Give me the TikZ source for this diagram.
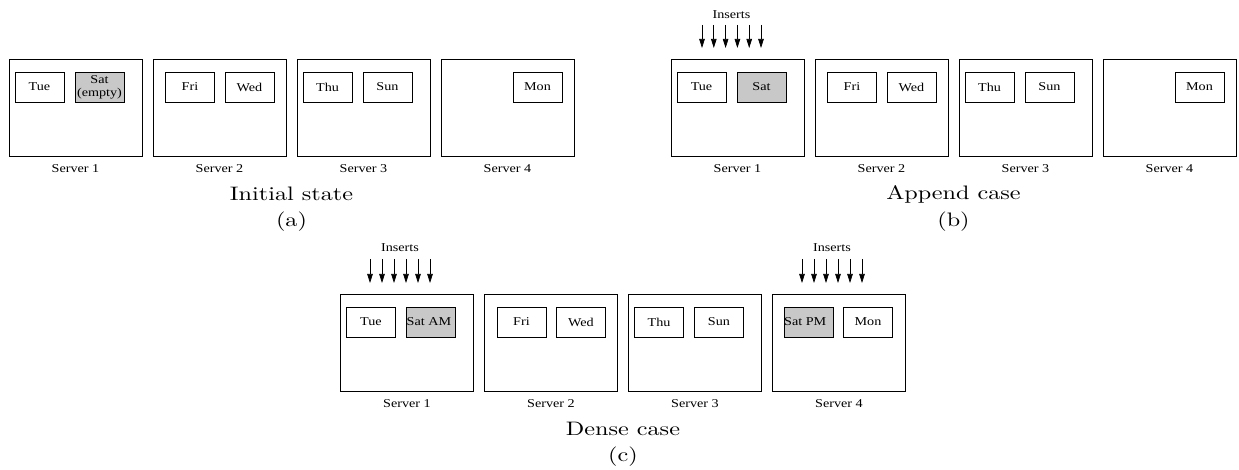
\documentclass[tikz,border=0pt]{standalone}
\usepackage{fontspec}
\usetikzlibrary{arrows.meta}
\newfontfamily\tms{Liberation Serif}[FakeStretch=1.18]
\newfontfamily\capfont{lmroman10-regular.otf}[FakeStretch=1.24]
\definecolor{satgray}{RGB}{200,200,200}
\tikzset{
  server/.style={draw, line width=0.8pt, minimum width=133pt, minimum height=97pt, inner sep=0pt},
  day/.style={draw, line width=0.8pt, minimum width=49pt, minimum height=30pt, inner sep=0pt, font=\tms\fontsize{12}{13}\selectfont, align=center},
  hot/.style={day, fill=satgray},
  slabel/.style={font=\tms\fontsize{12}{12}\selectfont, inner sep=0pt},
  caption/.style={font=\capfont\fontsize{19.5}{22}\selectfont, inner sep=0pt},
  ins/.style={line width=0.7pt, -{Triangle[length=9pt,width=5.5pt]}},
}
\begin{document}
\begin{tikzpicture}[x=1pt,y=-1pt]
\useasboundingbox (0,0) rectangle (1239,470);
% ---------- (a) ----------
\node[server] (a1) at (75.5,107.5) {};
\node[server] (a2) at (219.5,107.5) {};
\node[server] (a3) at (363.5,107.5) {};
\node[server] (a4) at (507.5,107.5) {};
\node[day] (a1tue) at (39.5,87) {Tue};
\node[hot] (a1sat) at (99.5,87) {Sat\\(empty)};
\node[day] (a2fri) at (190,87) {Fri};
\node[day] (a2wed) at (249.5,87) {Wed};
\node[day] (a3thu) at (327.5,87) {Thu};
\node[day] (a3sun) at (387.5,87) {Sun};
\node[day] (a4mon) at (537.5,87) {Mon};
\node[slabel] (a1l) at (75.5,169) {Server 1};
\node[slabel] (a2l) at (219.5,169) {Server 2};
\node[slabel] (a3l) at (363.5,169) {Server 3};
\node[slabel] (a4l) at (507.5,169) {Server 4};
\node[caption] (acap) at (291.5,194) {Initial state};
\node[caption] (atag) at (291.5,222) {(a)};
% ---------- (b) ----------
\node[server] (b1) at (737.5,107.5) {};
\node[server] (b2) at (881.5,107.5) {};
\node[server] (b3) at (1025.5,107.5) {};
\node[server] (b4) at (1169.5,107.5) {};
\node[day] (b1tue) at (701.5,87) {Tue};
\node[hot] (b1sat) at (761.5,87) {Sat};
\node[day] (b2fri) at (852,87) {Fri};
\node[day] (b2wed) at (911.5,87) {Wed};
\node[day] (b3thu) at (989.5,87) {Thu};
\node[day] (b3sun) at (1049.5,87) {Sun};
\node[day] (b4mon) at (1199.5,87) {Mon};
\node[slabel] (b1l) at (737.5,169) {Server 1};
\node[slabel] (b2l) at (881.5,169) {Server 2};
\node[slabel] (b3l) at (1025.5,169) {Server 3};
\node[slabel] (b4l) at (1169.5,169) {Server 4};
\node[caption] (bcap) at (953.5,194) {Append case};
\node[caption] (btag) at (953.5,222) {(b)};
\node[slabel] (bins) at (731.5,15) {Inserts};
\foreach \i in {0,...,5} {
  \coordinate (bs\i) at ({702+11.8*\i},25);
  \coordinate (be\i) at ({702+11.8*\i},48);
  \draw[ins] (bs\i) -- (be\i);
}
% ---------- (c) ----------
\node[server] (c1) at (407,342.5) {};
\node[server] (c2) at (551,342.5) {};
\node[server] (c3) at (695,342.5) {};
\node[server] (c4) at (839,342.5) {};
\node[day] (c1tue) at (371,322) {Tue};
\node[hot] (c1sat) at (431,322) {};
\node[slabel, anchor=west] (c1satt) at (406.5,322) {Sat AM};
\node[day] (c2fri) at (521.5,322) {Fri};
\node[day] (c2wed) at (581,322) {Wed};
\node[day] (c3thu) at (659,322) {Thu};
\node[day] (c3sun) at (719,322) {Sun};
\node[hot] (c4sat) at (808.5,322) {};
\node[slabel, anchor=west] (c4satt) at (784,322) {Sat PM};
\node[day] (c4mon) at (868,322) {Mon};
\node[slabel] (c1l) at (407,404) {Server 1};
\node[slabel] (c2l) at (551,404) {Server 2};
\node[slabel] (c3l) at (695,404) {Server 3};
\node[slabel] (c4l) at (839,404) {Server 4};
\node[caption] (ccap) at (623,429) {Dense case};
\node[caption] (ctag) at (623,457) {(c)};
\node[slabel] (cinsl) at (400,248) {Inserts};
\node[slabel] (cinsr) at (832,248) {Inserts};
\foreach \i in {0,...,5} {
  \coordinate (cls\i) at ({370+12*\i},259);
  \coordinate (cle\i) at ({370+12*\i},283);
  \draw[ins] (cls\i) -- (cle\i);
  \coordinate (crs\i) at ({802+12*\i},259);
  \coordinate (cre\i) at ({802+12*\i},283);
  \draw[ins] (crs\i) -- (cre\i);
}
\end{tikzpicture}
\end{document}
